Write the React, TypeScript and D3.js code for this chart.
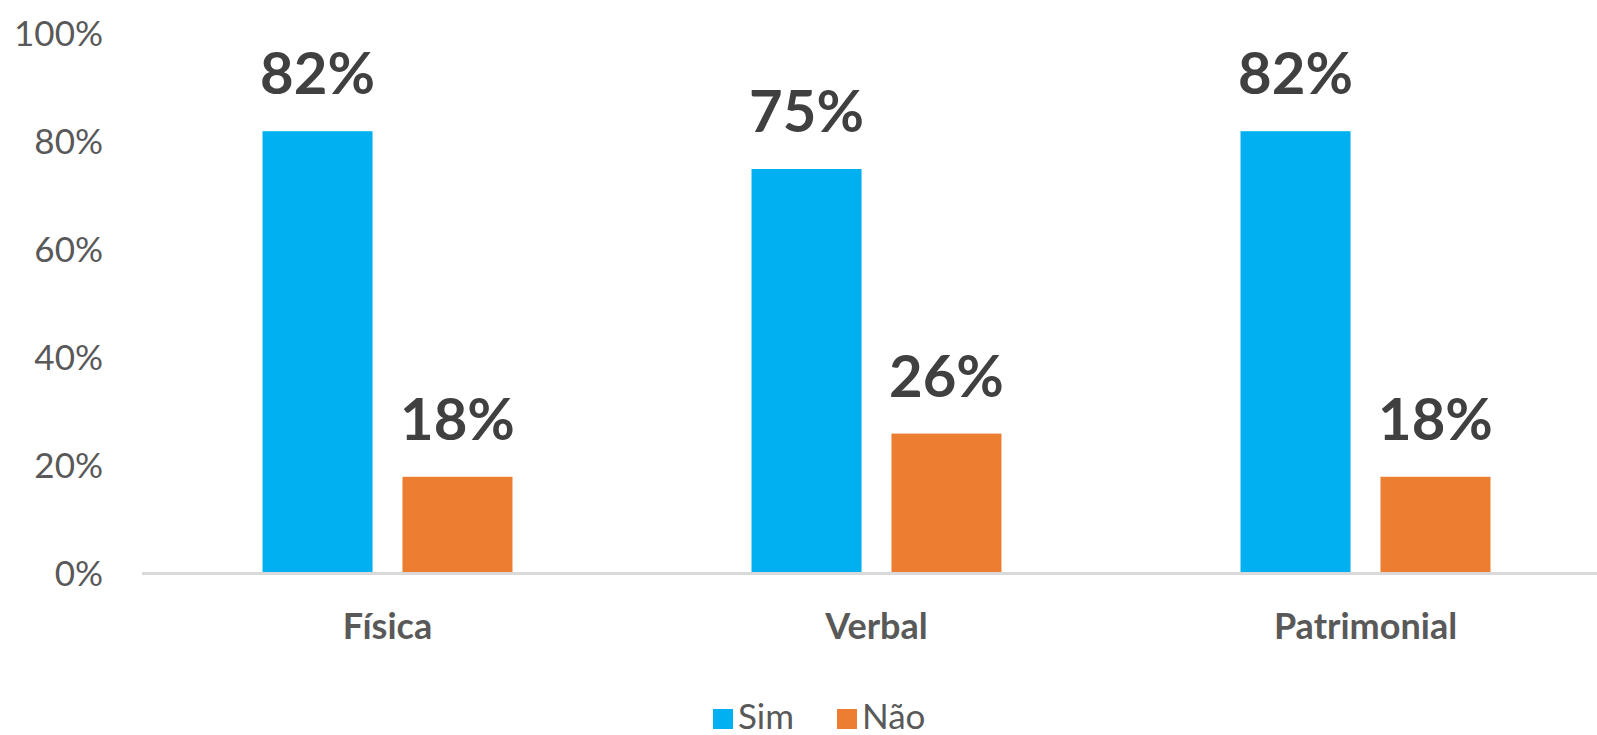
import React from "react";
import * as d3 from "d3";

const categories = ["Física", "Verbal", "Patrimonial"];
const seriesNames = ["Sim", "Não"];
const simValues = [0.82, 0.75, 0.82];
const naoValues = [0.18, 0.26, 0.18];
const yTicks = [0, 0.2, 0.4, 0.6, 0.8, 1.0];
const colors = ["#00B0F0", "#ED7D31"];

const W = 1597;
const H = 735;

export default function App() {
  const x0 = d3.scaleBand<string>().domain(categories).range([143, 1610]).paddingInner(0).paddingOuter(0);
  const x1 = d3
    .scaleBand<string>()
    .domain(seriesNames)
    .range([0, x0.bandwidth()])
    .paddingInner(0.214)
    .paddingOuter(0.854);
  const y = d3.scaleLinear().domain([0, 1]).range([574, 34]);
  const fmt = d3.format(".0%");
  const seriesValues = [simValues, naoValues];
  const font = "Lato, 'Open Sans', sans-serif";
  const legendX = d3.scalePoint<string>().domain(seriesNames).range([713, 837]);

  return (
    <svg
      width={W}
      height={H}
      style={{ position: "absolute", left: 0, top: 0, background: "#fff" }}
      fontFamily={font}
    >
      <rect x={0} y={0} width={W} height={H} fill="#fff" />
      {yTicks.map((t) => (
        <text
          key={t}
          x={103}
          y={y(t)}
          dy="0.35em"
          textAnchor="end"
          fontSize={35}
          fill="#595959"
        >
          {fmt(t)}
        </text>
      ))}
      {categories.map((c, ci) =>
        seriesNames.map((s, si) => {
          const v = seriesValues[si][ci];
          const bx = (x0(c) as number) + (x1(s) as number);
          const bw = x1.bandwidth();
          return (
            <g key={c + s}>
              <rect x={bx} y={y(v)} width={bw} height={y(0) - y(v)} fill={colors[si]} />
              <text
                x={bx + bw / 2}
                y={y(v) - 37}
                textAnchor="middle"
                fontSize={58}
                fontWeight="bold"
                fill="#404040"
              >
                {fmt(v)}
              </text>
            </g>
          );
        })
      )}
      <line x1={142} x2={W} y1={573.5} y2={573.5} stroke="#D9D9D9" strokeWidth={3} />
      {categories.map((c) => (
        <text
          key={c}
          x={(x0(c) as number) + x0.bandwidth() / 2}
          y={639}
          textAnchor="middle"
          fontSize={36}
          fontWeight="bold"
          fill="#595959"
        >
          {c}
        </text>
      ))}
      {seriesNames.map((s, i) => {
        const lx = legendX(s) as number;
        return (
          <g key={s}>
            <rect x={lx} y={709} width={20} height={20} fill={colors[i]} />
            <text x={lx + 25} y={729} fontSize={35} fill="#595959">
              {s}
            </text>
          </g>
        );
      })}
    </svg>
  );
}
